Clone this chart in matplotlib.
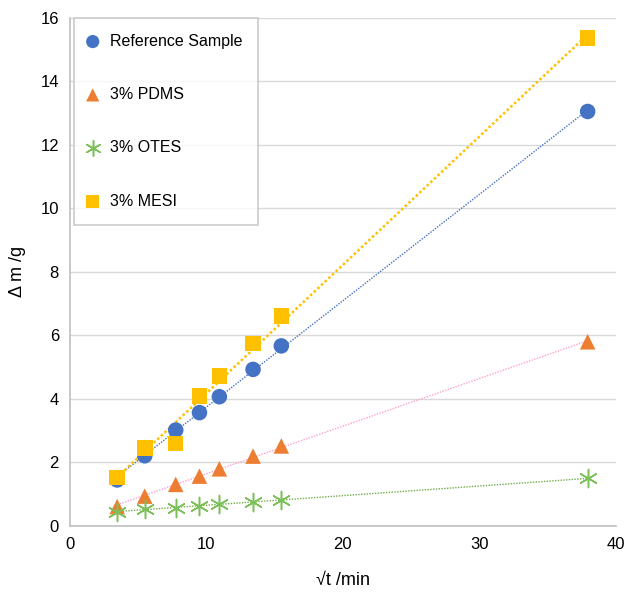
import numpy as np
import matplotlib
matplotlib.use("Agg")
import matplotlib.pyplot as plt

plt.rcParams['font.family'] = ['Liberation Sans', 'DejaVu Sans']

x = [3.46, 5.48, 7.75, 9.49, 10.95, 13.42, 15.49, 37.95]
ref = [1.45, 2.21, 3.02, 3.57, 4.07, 4.93, 5.67, 13.05]
pdms = [0.61, 0.94, 1.31, 1.57, 1.80, 2.20, 2.52, 5.80]
otes = [0.45, 0.53, 0.58, 0.64, 0.68, 0.75, 0.82, 1.50]
mesi = [1.52, 2.45, 2.60, 4.10, 4.72, 5.75, 6.61, 15.36]

labels = ["Reference Sample", "3% PDMS", "3% OTES", "3% MESI"]
xticks = [0, 10, 20, 30, 40]
yticks = [0, 2, 4, 6, 8, 10, 12, 14, 16]

fig = plt.figure(figsize=(6.25, 5.93), dpi=100)
ax = fig.add_axes([0.112, 0.113, 0.873, 0.857])

xa = np.array(x)
xs = np.array([xa.min(), xa.max()])

series = [
    (ref, labels[0], 'o', '#4472C4', '#4472C4', 1.0),
    (pdms, labels[1], '^', '#ED7D31', '#FF9FCF', 1.0),
    (otes, labels[2], 'x', '#70AD47', '#70AD47', 1.0),
    (mesi, labels[3], 's', '#FFC000', '#FFC000', 1.8),
]

handles = []
for ys, lab, mk, col, lcol, lw in series:
    coef = np.polyfit(xa, np.array(ys), 1)
    ax.plot(xs, np.polyval(coef, xs), color=lcol, lw=lw, ls=(0, (1, 1)), zorder=2)

for ys, lab, mk, col, lcol, lw in series:
    if mk == 'x':
        h = ax.scatter(x, ys, marker=(6, 2, 0), s=170, color='#7CC05A', linewidths=1.1, zorder=3, label=lab)
    else:
        h = ax.scatter(x, ys, marker=mk, s=125, color=col, edgecolors='none', zorder=3, label=lab)
    handles.append(h)

ax.set_xlim(0, 40)
ax.set_ylim(0, 16)
ax.set_xticks(xticks)
ax.set_yticks(yticks)
ax.tick_params(length=0, labelsize=12, pad=8)
ax.yaxis.grid(True, color='#D9D9D9', lw=1)
ax.set_axisbelow(True)
for s in ['top', 'right']:
    ax.spines[s].set_visible(False)
for s in ['left', 'bottom']:
    ax.spines[s].set_color('#BFBFBF')
    ax.spines[s].set_linewidth(1.2)

ax.set_xlabel("√t /min", fontsize=13, labelpad=14)
ax.set_ylabel("Δ m /g", fontsize=13, labelpad=10)

leg = ax.legend(handles=handles, labels=labels, loc='upper left',
                bbox_to_anchor=(0.008, 1.0), fontsize=11.5, frameon=True,
                fancybox=False, edgecolor='#BFBFBF', labelspacing=2.4,
                borderpad=1.0, handletextpad=0.9, handlelength=0.3,
                markerscale=0.85, borderaxespad=0)
leg.get_frame().set_linewidth(1.2)

fig.savefig("out.png", dpi=100)
